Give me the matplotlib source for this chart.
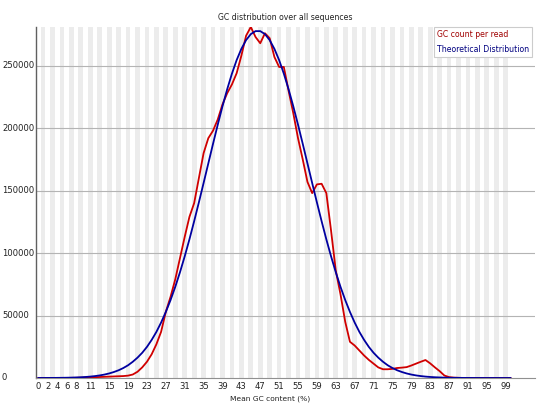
import numpy as np
import matplotlib
matplotlib.use("Agg")
from matplotlib import pyplot as plt

# GC 含量 0..100 %
gc_bins = list(range(0, 101))

# GC count per read
gc_count = [
    0, 0, 0, 0, 0, 0, 50, 100, 150, 250,
    350, 450, 600, 800, 950, 1100, 1250, 1400, 1550, 1900,
    2800, 5000, 8500, 13000, 19000, 27000, 37000, 53000, 65000, 79000,
    96000, 113000, 129000, 140000, 160000, 180000, 192000, 198000, 207000, 219000,
    228000, 235000, 244000, 258000, 274000, 281000, 273000, 268000, 276000, 272000,
    257000, 249000, 249000, 230000, 212000, 192000, 175000, 157000, 148000, 155000,
    155500, 148000, 118000, 86000, 67000, 45000, 29000, 26000, 22000, 18000,
    14500, 11500, 8500, 7000, 7000, 7300, 8000, 8300, 8700, 10000,
    11500, 13000, 14400, 11700, 8500, 5500, 2000, 700, 300, 150,
    50, 30, 20, 10, 0, 0, 0, 0, 0, 0,
    0,
]

# Theoretical Distribution
theory = [
    22, 33, 50, 70, 105, 150, 215, 305, 430, 600,
    830, 1130, 1540, 2070, 2760, 3650, 4800, 6200, 8000, 10200,
    13000, 16300, 20200, 24900, 30500, 36900, 44400, 52900, 62400, 73000,
    84700, 97400, 111000, 125500, 140600, 156100, 171800, 187500, 202800, 217500,
    231200, 243600, 254500, 263500, 270500, 275300, 277700, 277700, 275300, 270500,
    263500, 254500, 243600, 231200, 217500, 202800, 187500, 171800, 156100, 140600,
    125500, 111000, 97400, 84700, 73000, 62400, 52900, 44400, 36900, 30500,
    24900, 20200, 16300, 13000, 10200, 8000, 6200, 4800, 3650, 2760,
    2070, 1540, 1130, 830, 600, 430, 305, 215, 150, 105,
    70, 50, 33, 22, 15, 10, 6, 4, 3, 2,
    1,
]

x_labels = [0, 2, 4, 6, 8] + list(range(11, 100, 4))
y_ticks = [0, 50000, 100000, 150000, 200000, 250000]

fs = 6.1      # 刻度字号
fs_t = 5.6    # 标题/图例字号
plt.rcParams['font.family'] = ['DejaVu Sans']

fig = plt.figure(figsize=(5.4, 4.05), dpi=100)
ax = fig.add_axes([36 / 540, 27 / 405, 499 / 540, 351 / 405])
ax.set_xlim(-0.5, 105.2)
ax.set_ylim(0, 281000)

# 灰白相间的背景条
for i in gc_bins:
    if i % 2 == 1:
        ax.axvspan(i - 0.5, i + 0.5, color='#ececec', lw=0, zorder=0)

for v in y_ticks[1:]:
    ax.axhline(v, color='#b4b4b4', lw=0.8, zorder=1)

ax.plot(gc_bins, gc_count, color='#d00000', lw=1.3, zorder=3, label='GC count per read')
ax.plot(gc_bins, theory, color='#0000a0', lw=1.3, zorder=4, label='Theoretical Distribution')

for s in ['top', 'right']:
    ax.spines[s].set_visible(False)
ax.spines['left'].set_color('#606060')
ax.spines['bottom'].set_color('#909090')
ax.spines['left'].set_linewidth(1.0)
ax.spines['bottom'].set_linewidth(0.8)

ax.set_xticks(x_labels)
ax.set_xticklabels([str(v) for v in x_labels], fontsize=fs, color='#222222')
ax.tick_params(axis='x', length=0, pad=3)
ax.set_yticks(y_ticks)
ax.set_yticklabels([])
ax.tick_params(axis='y', length=0)
for v in y_ticks:
    ax.text(-34 / 499, v / 281000, str(v), transform=ax.transAxes, ha='left', va='center',
            fontsize=fs, color='#222222')

fig.text(285 / 540, 1 - 17 / 405, 'GC distribution over all sequences', ha='center', va='center',
         fontsize=fs_t, color='#222222')
fig.text(270 / 540, 1 - 399 / 405, 'Mean GC content (%)', ha='center', va='center',
         fontsize=5.4, color='#222222')

leg = ax.legend(loc='upper right', bbox_to_anchor=((532 - 36) / 499, 1.0), handlelength=0,
                handletextpad=0, fontsize=fs_t, frameon=True, fancybox=False, framealpha=1,
                edgecolor='#cccccc', borderpad=0.4, labelspacing=0.8, borderaxespad=0)
for h in leg.legend_handles:
    h.set_visible(False)
for t, c in zip(leg.get_texts(), ['#a00000', '#000080']):
    t.set_color(c)
leg.get_frame().set_linewidth(0.8)

fig.savefig('out.png', dpi=100)
